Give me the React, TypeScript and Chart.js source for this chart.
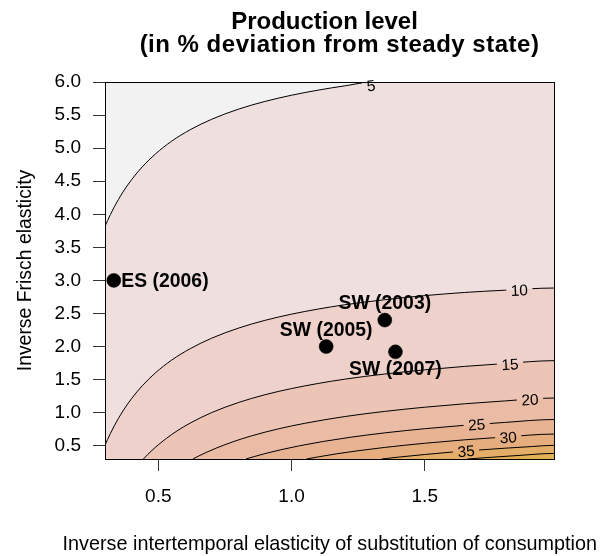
import React, { useEffect, useRef } from "react";
import { Chart, registerables } from "chart.js";

Chart.register(...registerables);

// ---- axis ranges & ticks ----
const X_MIN = 0.3;
const X_MAX = 1.985;
const Y_MIN = 0.3;
const Y_MAX = 6.0;

const xTickValues = [0.5, 1.0, 1.5];
const yTickValues = [0.5, 1.0, 1.5, 2.0, 2.5, 3.0, 3.5, 4.0, 4.5, 5.0, 5.5, 6.0];

// ---- contour levels and traced contour lines ----
const contourLevels = [5, 10, 15, 20, 25, 30, 35, 40];

const contour5X = [0.3, 0.31, 0.32, 0.335, 0.35, 0.37, 0.4, 0.44, 0.49, 0.55, 0.62, 0.7, 0.8, 0.9, 1.0, 1.1, 1.2, 1.308];
const contour5Y = [3.817, 3.908, 3.994, 4.113, 4.221, 4.353, 4.525, 4.718, 4.915, 5.105, 5.279, 5.436, 5.588, 5.706, 5.8, 5.877, 5.942, 6.0];
const contour10X = [0.3, 0.31, 0.32, 0.335, 0.35, 0.37, 0.4, 0.44, 0.49, 0.55, 0.62, 0.7, 0.8, 0.9, 1.0, 1.1, 1.2, 1.35, 1.5, 1.65, 1.8, 1.985];
const contour10Y = [0.507, 0.598, 0.684, 0.803, 0.911, 1.043, 1.215, 1.408, 1.605, 1.795, 1.969, 2.126, 2.278, 2.396, 2.49, 2.567, 2.632, 2.708, 2.77, 2.818, 2.852, 2.885];
const contour15X = [0.444, 0.46, 0.48, 0.5, 0.53, 0.57, 0.62, 0.7, 0.8, 0.9, 1.0, 1.1, 1.2, 1.35, 1.5, 1.65, 1.8, 1.985];
const contour15Y = [0.3, 0.367, 0.444, 0.515, 0.611, 0.724, 0.844, 1.001, 1.153, 1.271, 1.365, 1.442, 1.507, 1.585, 1.648, 1.7, 1.743, 1.787];
const contour20X = [0.63, 0.65, 0.68, 0.72, 0.78, 0.85, 0.95, 1.05, 1.2, 1.35, 1.5, 1.65, 1.8, 1.985];
const contour20Y = [0.3, 0.342, 0.4, 0.469, 0.56, 0.65, 0.755, 0.84, 0.942, 1.02, 1.083, 1.135, 1.178, 1.222];
const contour25X = [0.829, 0.86, 0.9, 0.96, 1.03, 1.12, 1.22, 1.35, 1.5, 1.65, 1.8, 1.985];
const contour25Y = [0.3, 0.337, 0.381, 0.44, 0.5, 0.566, 0.628, 0.695, 0.758, 0.81, 0.853, 0.897];
const contour30X = [1.056, 1.1, 1.17, 1.25, 1.35, 1.5, 1.65, 1.8, 1.985];
const contour30Y = [0.3, 0.332, 0.379, 0.425, 0.475, 0.538, 0.59, 0.633, 0.677];
const contour35X = [1.339, 1.4, 1.5, 1.6, 1.7, 1.8, 1.9, 1.985];
const contour35Y = [0.3, 0.328, 0.368, 0.404, 0.435, 0.463, 0.488, 0.507];
const contour40X = [1.66, 1.75, 1.85, 1.985];
const contour40Y = [0.3, 0.326, 0.353, 0.384];

const contourXList = [contour5X, contour10X, contour15X, contour20X, contour25X, contour30X, contour35X, contour40X];
const contourYList = [contour5Y, contour10Y, contour15Y, contour20Y, contour25Y, contour30Y, contour35Y, contour40Y];

// ---- contour labels (contour index, position) ----
const contourLabelIndex = [0, 1, 2, 3, 4, 5, 6];
const contourLabelX = [1.298, 1.855, 1.82, 1.895, 1.695, 1.813, 1.655];
const contourLabelY = [5.95, 2.855, 1.735, 1.2, 0.822, 0.628, 0.42];

// ---- estimated model points ----
const pointX = [0.333, 1.35, 1.13, 1.39];
const pointY = [3.0, 2.4, 2.0, 1.92];
const pointLabels = ["ES (2006)", "SW (2003)", "SW (2005)", "SW (2007)"];
const pointLabelPos = [4, 3, 3, 1]; // R-style: 1 below, 3 above, 4 right

// ---- colours ----
const BG_COLOR = "#f2f2f2";
const bandColors = ["#efdfdf", "#eed1ca", "#ecc5b7", "#eabba5", "#e8b392", "#e6ae7f", "#e4ae69", "#e2b052"];

const FONT = '"Liberation Sans", Arial, Helvetica, sans-serif';
const LABEL_FONT_SIZE = 15.5;

type P = { x: number; y: number };

function toPoints(xs: number[], ys: number[]): P[] {
  return xs.map((x, i) => ({ x, y: ys[i] }));
}

// contour line followed by the plot corners that close the region above that level
function regionPolygon(xs: number[], ys: number[]): P[] {
  const p = toPoints(xs, ys);
  const first = p[0];
  const last = p[p.length - 1];
  if (last.y >= Y_MAX - 1e-9) p.push({ x: X_MAX, y: Y_MAX });
  p.push({ x: X_MAX, y: Y_MIN });
  if (first.x <= X_MIN + 1e-9) p.push({ x: X_MIN, y: Y_MIN });
  return p;
}

function labelGeom(chart: any, k: number) {
  const ci = contourLabelIndex[k];
  const xs = contourXList[ci];
  const ys = contourYList[ci];
  const sx = chart.scales.x;
  const sy = chart.scales.y;
  const lx = contourLabelX[k];
  let j = 0;
  while (j < xs.length - 2 && xs[j + 1] < lx) j++;
  const dx = sx.getPixelForValue(xs[j + 1]) - sx.getPixelForValue(xs[j]);
  const dy = sy.getPixelForValue(ys[j + 1]) - sy.getPixelForValue(ys[j]);
  const angle = Math.atan2(dy, dx);
  const ctx = chart.ctx;
  ctx.save();
  ctx.font = `${LABEL_FONT_SIZE}px ${FONT}`;
  const w = ctx.measureText(String(contourLevels[ci])).width;
  ctx.restore();
  return { cx: sx.getPixelForValue(lx), cy: sy.getPixelForValue(contourLabelY[k]), angle, w, ci };
}

const contourPlugin = {
  id: "contourDecor",
  beforeDatasetsDraw(chart: any) {
    const { ctx, chartArea: a } = chart;
    ctx.save();
    ctx.fillStyle = BG_COLOR;
    ctx.fillRect(a.left, a.top, a.right - a.left, a.bottom - a.top);
    ctx.restore();
  },
  beforeDatasetDraw(chart: any, args: any) {
    const ds = chart.data.datasets[args.index];
    if (ds.contourIndex === undefined) return;
    const ctx = chart.ctx;
    ctx.save();
    ctx.beginPath();
    ctx.rect(0, 0, chart.width, chart.height);
    for (let k = 0; k < contourLabelIndex.length; k++) {
      if (contourLabelIndex[k] !== ds.contourIndex) continue;
      const g = labelGeom(chart, k);
      const hw = g.w / 2 + 4.5;
      const hh = 8;
      const c = Math.cos(g.angle);
      const s = Math.sin(g.angle);
      const corners = [
        [-hw, -hh],
        [hw, -hh],
        [hw, hh],
        [-hw, hh],
      ].map(([u, v]) => [g.cx + u * c - v * s, g.cy + u * s + v * c]);
      ctx.moveTo(corners[0][0], corners[0][1]);
      for (let i = 1; i < 4; i++) ctx.lineTo(corners[i][0], corners[i][1]);
      ctx.closePath();
    }
    ctx.clip("evenodd");
  },
  afterDatasetDraw(chart: any, args: any) {
    const ds = chart.data.datasets[args.index];
    if (ds.contourIndex === undefined) return;
    chart.ctx.restore();
  },
  afterDatasetsDraw(chart: any) {
    const { ctx, chartArea: a } = chart;
    for (let k = 0; k < contourLabelIndex.length; k++) {
      const g = labelGeom(chart, k);
      ctx.save();
      ctx.translate(g.cx, g.cy);
      ctx.rotate(g.angle);
      ctx.font = `${LABEL_FONT_SIZE}px ${FONT}`;
      ctx.fillStyle = "#000";
      ctx.textAlign = "center";
      ctx.textBaseline = "alphabetic";
      ctx.fillText(String(contourLevels[g.ci]), 0, LABEL_FONT_SIZE * 0.358);
      ctx.restore();
    }
    ctx.save();
    ctx.strokeStyle = "#000";
    ctx.lineWidth = 1;
    const l = Math.floor(a.left) + 0.5;
    const t = Math.floor(a.top) + 0.5;
    const r = Math.floor(a.right) + 0.5;
    const b = Math.floor(a.bottom) + 0.5;
    ctx.strokeRect(l, t, r - l, b - t);
    ctx.restore();
  },
  afterDraw(chart: any) {
    const { ctx } = chart;
    const sx = chart.scales.x;
    const sy = chart.scales.y;
    ctx.save();
    ctx.fillStyle = "#000";
    ctx.textAlign = "center";
    ctx.textBaseline = "alphabetic";
    ctx.font = `bold 24px ${FONT}`;
    ctx.fillText("Production level", 324.5, 28.5);
    try {
      (ctx as any).letterSpacing = "0.5px";
    } catch (e) {}
    ctx.fillText("(in % deviation from steady state)", 339.5, 52);
    try {
      (ctx as any).letterSpacing = "0px";
    } catch (e) {}
    ctx.font = `19.8px ${FONT}`;
    ctx.fillText("Inverse intertemporal elasticity of substitution of consumption", 329.8, 550);
    ctx.save();
    ctx.font = `19.4px ${FONT}`;
    ctx.translate(30.5, (chart.chartArea.top + chart.chartArea.bottom) / 2);
    ctx.rotate(-Math.PI / 2);
    ctx.fillText("Inverse Frisch elasticity", 0, 0);
    ctx.restore();
    const fs = 19.4;
    ctx.font = `bold ${fs}px ${FONT}`;
    for (let i = 0; i < pointLabels.length; i++) {
      const px = sx.getPixelForValue(pointX[i]);
      const py = sy.getPixelForValue(pointY[i]);
      const capHalf = fs * 0.358;
      const pos = pointLabelPos[i];
      if (pos === 4) {
        ctx.textAlign = "left";
        ctx.fillText(pointLabels[i], px + 7.5, py + capHalf);
      } else if (pos === 3) {
        ctx.textAlign = "center";
        ctx.fillText(pointLabels[i], px, py - 18 + capHalf);
      } else {
        ctx.textAlign = "center";
        ctx.fillText(pointLabels[i], px, py + 16 + capHalf);
      }
    }
    ctx.restore();
  },
};

export default function App() {
  const ref = useRef<HTMLCanvasElement>(null);

  useEffect(() => {
    document.body.style.margin = "0";
    const canvas = ref.current;
    if (!canvas) return;

    const fillDatasets = contourLevels.map((lev, i) => ({
      type: "line" as const,
      label: `>= ${lev}`,
      data: regionPolygon(contourXList[i], contourYList[i]),
      fill: "shape",
      backgroundColor: bandColors[i],
      borderWidth: 0,
      borderColor: "rgba(0,0,0,0)",
      pointRadius: 0,
      cubicInterpolationMode: "monotone",
      order: 100 - lev,
    }));

    const lineDatasets = contourLevels.map((lev, i) => {
      const n = contourXList[i].length;
      return {
        type: "line" as const,
        label: `contour ${lev}`,
        contourIndex: i,
        data: regionPolygon(contourXList[i], contourYList[i]),
        fill: false,
        borderColor: "#000",
        borderWidth: 1,
        pointRadius: 0,
        cubicInterpolationMode: "monotone",
        segment: {
          borderColor: (c: any) => (c.p1DataIndex <= n - 1 ? "#000" : "rgba(0,0,0,0)"),
        },
        order: 10,
      };
    });

    const pointDataset = {
      type: "line" as const,
      label: "estimates",
      data: toPoints(pointX, pointY),
      showLine: false,
      fill: false,
      pointRadius: 7,
      pointBackgroundColor: "#000",
      pointBorderColor: "#000",
      pointBorderWidth: 0.5,
      order: 0,
    };

    const chart = new Chart(canvas, {
      type: "line",
      data: { datasets: [...fillDatasets, ...lineDatasets, pointDataset] as any },
      options: {
        responsive: false,
        devicePixelRatio: 1,
        animation: false,
        events: [],
        layout: { padding: { top: 82, right: 57, left: 0, bottom: 0 } },
        plugins: {
          legend: { display: false },
          title: { display: false },
          tooltip: { enabled: false },
        },
        scales: {
          x: {
            type: "linear",
            position: "bottom",
            min: X_MIN,
            max: X_MAX,
            afterBuildTicks: (scale: any) => {
              scale.ticks = xTickValues.map((v) => ({ value: v }));
            },
            afterFit: (scale: any) => {
              scale.height = 97;
            },
            grid: {
              display: true,
              drawOnChartArea: false,
              drawTicks: true,
              tickLength: 12,
              tickColor: "#333",
              tickWidth: 1,
            },
            border: { display: false },
            ticks: {
              autoSkip: false,
              maxRotation: 0,
              padding: 14,
              color: "#000",
              font: { family: FONT, size: 19 },
              callback: (v: any) => Number(v).toFixed(1),
            },
          },
          y: {
            type: "linear",
            position: "left",
            min: Y_MIN,
            max: Y_MAX,
            afterBuildTicks: (scale: any) => {
              scale.ticks = yTickValues.map((v) => ({ value: v }));
            },
            afterFit: (scale: any) => {
              scale.width = 105;
            },
            grid: {
              display: true,
              drawOnChartArea: false,
              drawTicks: true,
              tickLength: 12,
              tickColor: "#333",
              tickWidth: 1,
            },
            border: { display: false },
            ticks: {
              autoSkip: false,
              padding: 12,
              color: "#000",
              font: { family: FONT, size: 19 },
              callback: (v: any) => Number(v).toFixed(1),
            },
          },
        },
      } as any,
      plugins: [contourPlugin as any],
    });

    return () => chart.destroy();
  }, []);

  return (
    <canvas
      ref={ref}
      width={611}
      height={556}
      style={{ display: "block", width: "611px", height: "556px" }}
    />
  );
}
